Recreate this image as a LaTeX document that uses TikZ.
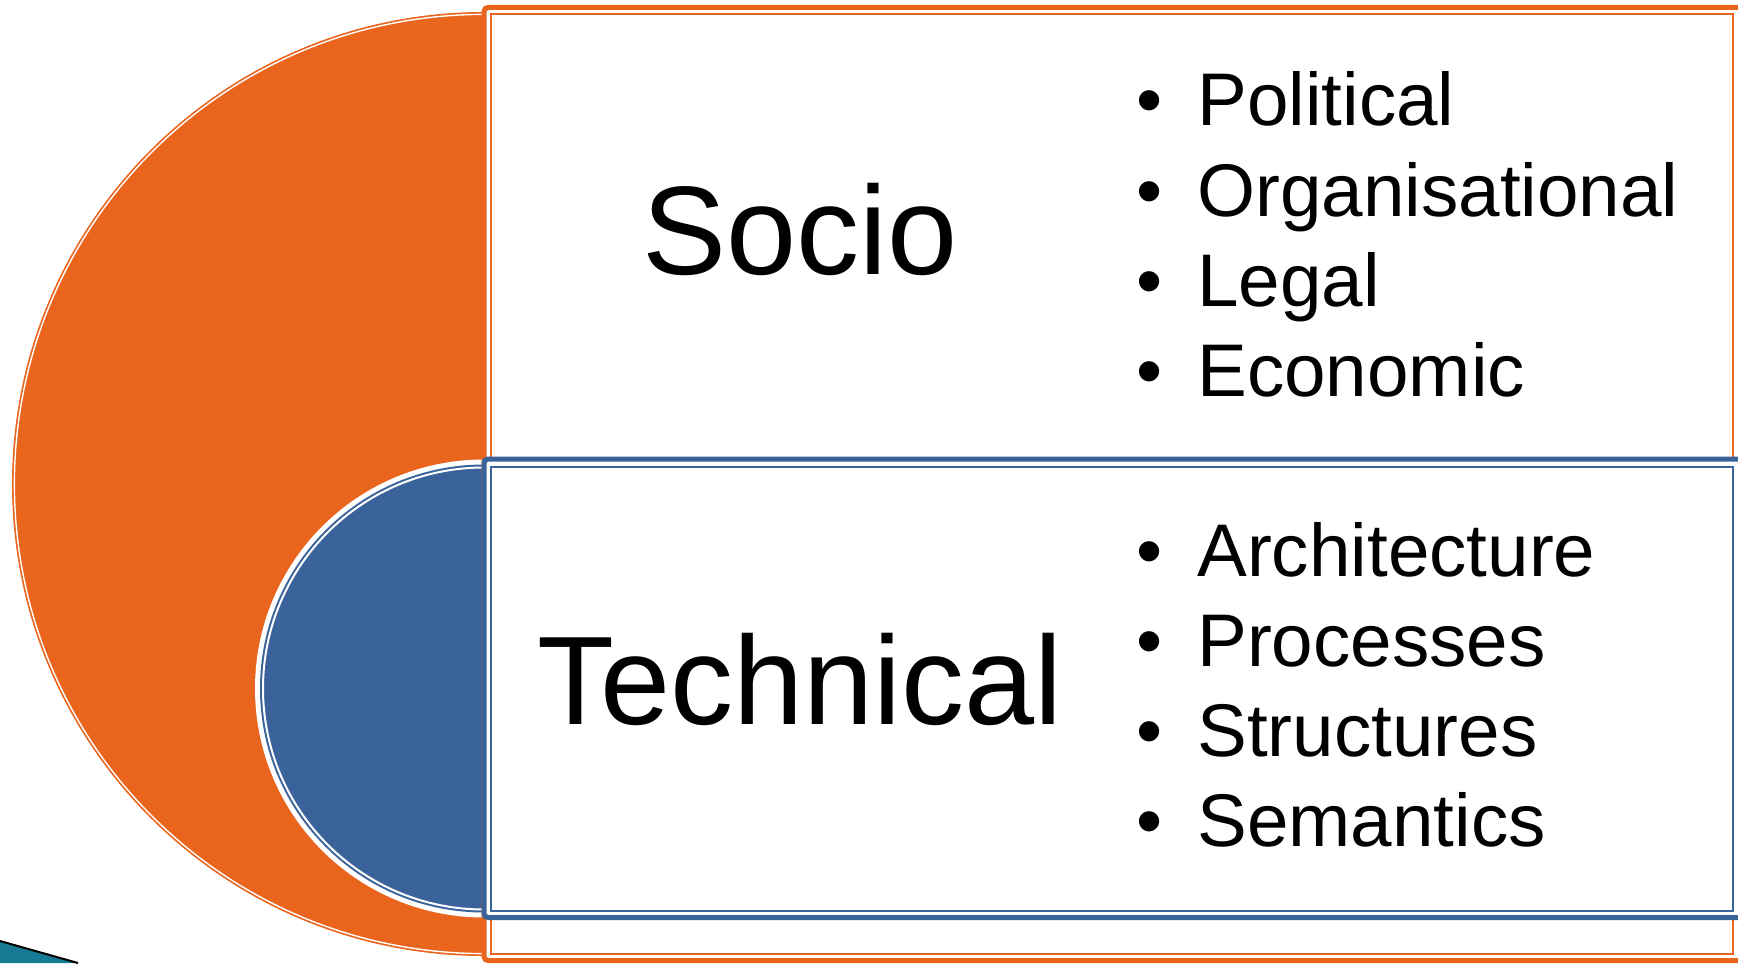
\documentclass[tikz,border=0pt]{standalone}
\usepackage{fontspec}
\setmainfont{Liberation Sans}
\usepackage{tikz}
\usetikzlibrary{positioning}
\definecolor{sociocol}{RGB}{233,101,30}
\definecolor{techcol}{RGB}{58,99,155}
\definecolor{tealcol}{RGB}{22,122,148}
\newcommand{\itm}[1]{\makebox[30.5pt][l]{•}#1}
\tikzstyle{heading}=[inner sep=0pt,
	text height=0.72em,
	text depth=0pt,
	font=\fontsize{63}{70}\selectfont]
\tikzstyle{item}=[inner sep=0pt,
	text width=300pt,
	align=left,
	text height=0.75em,
	text depth=0.22em,
	font=\fontsize{37.3}{45}\selectfont]
\tikzstyle{outerline}=[line width=2.5pt,
	rounded corners=2pt,
	fill=white]
\tikzstyle{innerline}=[line width=1pt]

\begin{document}
\begin{tikzpicture}[x=0.5pt,y=-0.5pt]
					\useasboundingbox (0,0) rectangle (1738,963);
					\clip (0,0) rectangle (1738,963);
					% big half discs
					\fill[sociocol] (484,484) circle[radius=472];
					\draw[white, line width=0.7pt] (484,484) circle[radius=469.6];
					\fill[white] (484,688.5) circle[radius=229];
					\fill[techcol] (484,688.5) circle[radius=224];
					\draw[white, line width=1pt] (484,688.5) circle[radius=221];
					% the two boxes
					\draw[outerline, draw=sociocol] (484,7.5) rectangle (1747,960.5);
					\draw[innerline, draw=sociocol] (490.5,13.8) rectangle (1733,953.5);
					\draw[outerline, draw=techcol] (484,459) rectangle (1747,917.5);
					\draw[innerline, draw=techcol] (490.5,466.5) rectangle (1733,910.5);

					\node (socio) [heading, anchor=base] at (800,274) {Socio};
					\node (technical) [heading, below of=socio, node distance=225pt] {Technical};

					\node (political) [item, anchor=base west] at (1136,126) {\itm{Political}};
					\node (organisational) [item, below of=political, node distance=45pt] {\itm{Organisational}};
					\node (legal) [item, below of=organisational, node distance=45pt] {\itm{Legal}};
					\node (economic) [item, below of=legal, node distance=45pt] {\itm{Economic}};

					\node (architecture) [item, below of=economic, node distance=90pt] {\itm{Architecture}};
					\node (processes) [item, below of=architecture, node distance=45pt] {\itm{Processes}};
					\node (structures) [item, below of=processes, node distance=45pt] {\itm{Structures}};
					\node (semantics) [item, below of=structures, node distance=45pt] {\itm{Semantics}};

					% corner of the slide behind
					\fill[tealcol] (0,941) -- (78,963) -- (0,963) -- cycle;
					\draw[black, line width=1pt] (0,941) -- (78,963);
				\end{tikzpicture}
\end{document}
